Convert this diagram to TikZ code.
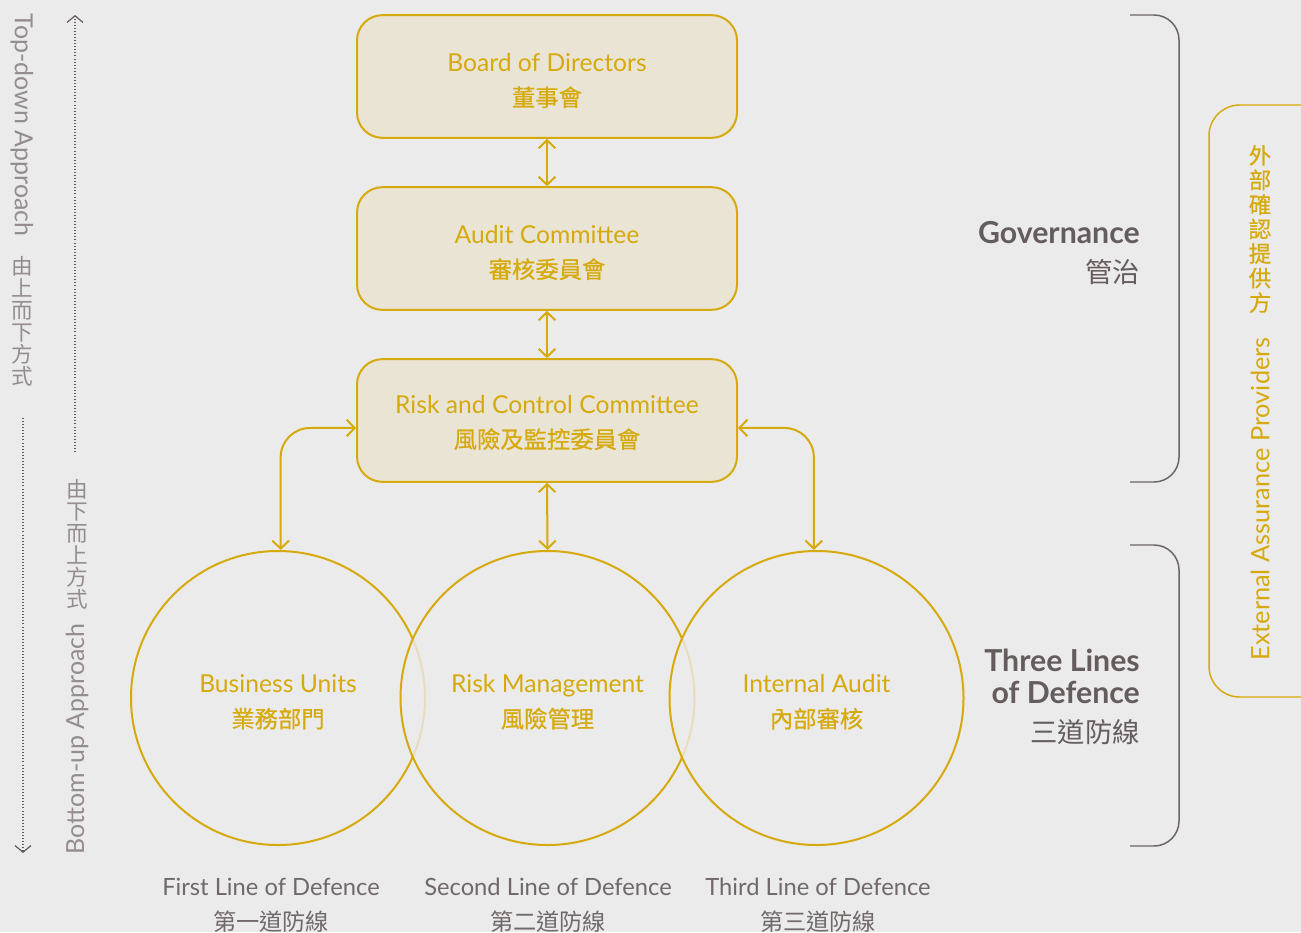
\documentclass[tikz,border=0pt]{standalone}
\usepackage{fontspec}
\setmainfont{Lato}
\newfontfamily\cjk{Noto Sans CJK TC}
\newfontfamily\cjkm[FakeBold=0.6]{Noto Sans CJK TC}
\usetikzlibrary{arrows.meta}
\definecolor{bg}{HTML}{EBEBEB}
\definecolor{boxfill}{HTML}{EAE4D5}
\definecolor{gold}{HTML}{D6A90C}
\definecolor{darkgray}{HTML}{645C5D}
\definecolor{brkgray}{HTML}{6B6365}
\definecolor{midgray}{HTML}{716969}
\definecolor{lightgray}{HTML}{948C8E}
\newcommand\mybox{\fontsize{18.5pt}{26.25pt}\selectfont}
\newcommand\mycjk{\cjkm\fontsize{17.5pt}{26.25pt}\selectfont}
\begin{document}
\begin{tikzpicture}[x=0.75pt,y=-0.75pt,
  govbox/.style={draw=gold, fill=boxfill, line width=1.5pt, rounded corners=19pt,
    minimum width=285pt, minimum height=92pt},
  ring/.style={circle, draw=gold, line width=1.5pt, minimum size=220.5pt, inner sep=0pt},
  overring/.style={ring, fill=bg, fill opacity=0.8, draw opacity=1},
  intext/.style={align=center, text=gold, font=\mybox, inner sep=0pt},
  conn/.style={draw=gold, line width=1.5pt, rounded corners=22pt, {Straight Barb[length=6pt,width=12.5pt]}-{Straight Barb[length=6pt,width=12.5pt]}},
  brk/.style={draw=brkgray, line width=1.1pt, rounded corners=18.75pt},
  dotl/.style={draw=darkgray, line width=0.8pt, dash pattern=on 0.7pt off 1.6pt},
  sidelabel/.style={text=lightgray, font=\fontsize{18.7pt}{20pt}\selectfont, inner sep=0pt},
  sidecjk/.style={text=lightgray, font=\cjk\fontsize{16.2pt}{16.5pt}\selectfont, align=center, inner sep=0pt},
  botlabel/.style={text=midgray, font=\fontsize{17.8pt}{26pt}\selectfont, align=center, inner sep=0pt},
  rightlabel/.style={text=darkgray, font=\fontsize{22.7pt}{24pt}\selectfont\bfseries, inner sep=0pt, anchor=mid east},
  rightcjk/.style={text=darkgray, font=\cjk\fontsize{20.5pt}{24pt}\selectfont, inner sep=0pt, anchor=mid east},
]
\fill[bg] (0,0) rectangle (1301,932);
\useasboundingbox (0,0) rectangle (1301,932);
\clip (0,0) rectangle (1301,932);

% boxes
\node[govbox] (bod) at (547,76.5) {};
\node[govbox] (ac) at (547,248.5) {};
\node[govbox] (rcc) at (547,420.5) {};
\node[intext] (bodt) at ([yshift=-3pt]bod.center) {Board of Directors\\{\mycjk 董事會}};
\node[intext] (act) at ([yshift=-3pt]ac.center) {Audit Committee\\{\mycjk 審核委員會}};
\node[intext] (rcct) at ([yshift=-1.5pt]rcc.center) {Risk and Control Committee\\{\mycjk 風險及監控委員會}};

% circles
\node[ring] (bu) at (278,698) {};
\node[overring] (rm) at (547.5,698) {};
\node[overring] (ia) at (816.5,698) {};
\node[intext] (but) at ([yshift=-3pt]bu.center) {Business Units\\{\mycjk 業務部門}};
\node[intext] (rmt) at ([yshift=-3pt]rm.center) {Risk Management\\{\mycjk 風險管理}};
\node[intext] (iat) at ([yshift=-3pt]ia.center) {Internal Audit\\{\mycjk 內部審核}};

% connectors
\draw[conn] (bod.south) -- (ac.north);
\draw[conn] (ac.south) -- (rcc.north);
\draw[conn] (rcc.south) -- (rm.north);
\draw[conn] ([yshift=-5.6pt]rcc.west) -| ([xshift=2pt]bu.north);
\draw[conn] ([yshift=-5.6pt]rcc.east) -| ([xshift=-2pt]ia.north);

% bottom labels
\node[botlabel] (l1) at (271,905) {First Line of Defence\\{\cjk\fontsize{17.4pt}{26pt}\selectfont 第一道防線}};
\node[botlabel] (l2) at (548,905) {Second Line of Defence\\{\cjk\fontsize{17.4pt}{26pt}\selectfont 第二道防線}};
\node[botlabel] (l3) at (818,905) {Third Line of Defence\\{\cjk\fontsize{17.4pt}{26pt}\selectfont 第三道防線}};

% right labels
\node[rightlabel] (gov) at (1140,240) {Governance};
\node[rightcjk] (govc) at (1140,279) {管治};
\node[rightlabel] (tl1) at (1140,668) {Three Lines};
\node[rightlabel] (tl2) at (1140,700) {of Defence};
\node[rightcjk] (tlc) at (1140,739) {三道防線};

% brackets
\draw[brk] (1130,15) -- (1179,15) -- (1179,482) -- (1130,482);
\draw[brk] (1130,545) -- (1179,545) -- (1179,846) -- (1130,846);

% external assurance
\draw[draw=gold, line width=1.1pt, rounded corners=23pt] (1340,105) -- (1209,105) -- (1209,697) -- (1340,697);
\node[text=gold, font=\cjkm\fontsize{16.8pt}{18.4pt}\selectfont, align=center, inner sep=0pt] (eac) at (1260,229) {外\\部\\確\\認\\提\\供\\方};
\node[text=gold, font=\fontsize{19pt}{20pt}\selectfont, inner sep=0pt, rotate=90] (ea) at (1260,499) {External Assurance Providers};

% left approach labels
\node[sidelabel, rotate=-90] (td) at (22,125) {Top-down Approach};
\node[sidecjk] (tdc) at (22,321) {由\\上\\而\\下\\方\\式};
\node[sidelabel, rotate=90] (bu2) at (77,739) {Bottom-up Approach};
\node[sidecjk] (buc) at (77,544) {由\\下\\而\\上\\方\\式};

\coordinate (tdA) at (75,452);
\coordinate (tdB) at (75,15);
\coordinate (buA) at (23,418);
\coordinate (buB) at (23,853);
\draw[dotl, -{Straight Barb[length=5pt,width=12pt,line width=0.9pt]}] (tdA) -- (tdB);
\draw[dotl, -{Straight Barb[length=5pt,width=12pt,line width=0.9pt]}] (buA) -- (buB);
\end{tikzpicture}
\end{document}
